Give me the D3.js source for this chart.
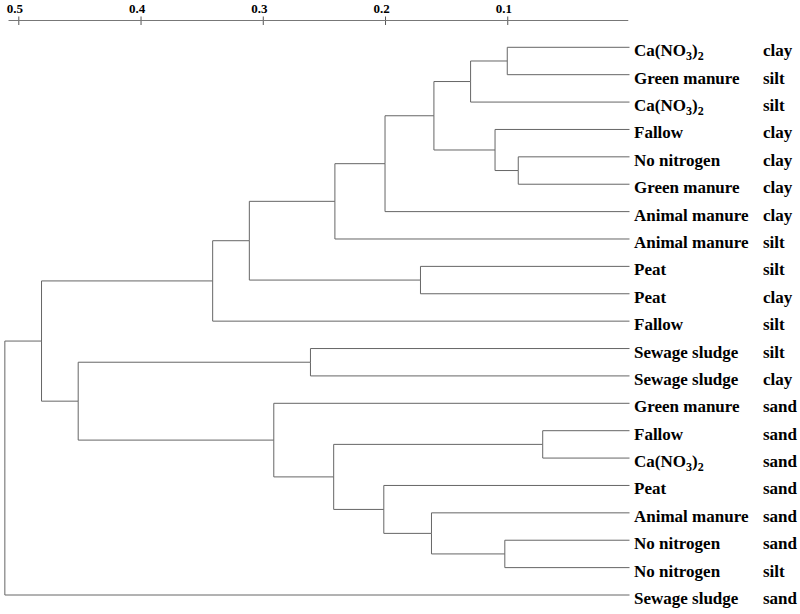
<!DOCTYPE html>
<html><head><meta charset="utf-8">
<script src="https://cdn.jsdelivr.net/npm/d3@7"></script>
<style>body{margin:0;background:#fff} svg{display:block}</style>
</head><body>
<svg id="chart" width="800" height="614"></svg>
<script>
// Leaves (top to bottom)
const treatments = ["Ca(NO3)2","Green manure","Ca(NO3)2","Fallow","No nitrogen","Green manure",
  "Animal manure","Animal manure","Peat","Peat","Fallow","Sewage sludge","Sewage sludge",
  "Green manure","Fallow","Ca(NO3)2","Peat","Animal manure","No nitrogen","No nitrogen","Sewage sludge"];
const soils = ["clay","silt","silt","clay","clay","clay","clay","silt","silt","clay","silt",
  "silt","clay","sand","sand","sand","sand","sand","sand","silt","sand"];
// Merge steps: node 21+k joins mergeA[k] and mergeB[k] at distance mergeDist[k]
const mergeA =    [0,    21,   4,    3,    22,   25,   26,   8,    27,   29,   11,   14,   18,   17,   16,   32,   13,   31,   30,   39];
const mergeB =    [1,    2,    5,    23,   24,   6,    7,    9,    28,   10,   12,   15,   19,   33,   34,   35,   36,   37,   38,   20];
const mergeDist = [0.100,0.130,0.091,0.110,0.160,0.200,0.241,0.171,0.311,0.341,0.261,0.071,0.102,0.162,0.201,0.242,0.291,0.451,0.481,0.511];
const tickValues = [0.5,0.4,0.3,0.2,0.1];
const tickLabels = ["0.5","0.4","0.3","0.2","0.1"];

const svg = d3.select("#chart");
const font = "'Liberation Serif','Times New Roman',serif";

const x = d3.scaleLinear().domain([0.5, 0]).range([18.3, 629.5]);
const y = d3.scalePoint().domain(d3.range(treatments.length)).range([47.3, 595]);

// build tree
const nodes = treatments.map((t, i) => ({id: i, name: t, soil: soils[i], dist: 0}));
mergeA.forEach((a, k) => {
  nodes.push({id: nodes.length, dist: mergeDist[k], children: [nodes[a], nodes[mergeB[k]]]});
});
const root = d3.hierarchy(nodes[nodes.length - 1]);
root.eachAfter(d => {
  d.py = d.children ? d3.mean(d.children, c => c.py) : y(d.data.id);
});

// links
svg.append("g")
  .attr("fill", "none")
  .attr("stroke", "#666")
  .attr("stroke-width", 1)
  .selectAll("path")
  .data(root.links())
  .join("path")
  .attr("d", l => `M${x(l.source.data.dist)},${l.source.py}V${l.target.py}H${x(l.target.data.dist)}`);

// axis
const axisG = svg.append("g").attr("transform", "translate(0,20.5)");
axisG.call(d3.axisTop(x).tickValues(tickValues)
  .tickFormat((d, i) => tickLabels[i]).tickSize(4).tickPadding(4));
axisG.attr("font-family", font).attr("font-size", 13);
axisG.select(".domain").remove();
axisG.append("line")
  .attr("x1", x(0.508)).attr("x2", x(0.001))
  .attr("stroke", "#777");
axisG.selectAll(".tick line").attr("y1", -4).attr("y2", 4.5).attr("stroke", "#555");
axisG.selectAll(".tick text")
  .attr("dx", -4)
  .attr("fill", "#000")
  .style("font-family", font)
  .style("font-weight", "bold")
  .style("font-size", "13px");

// leaf labels
const leaves = root.leaves();
const lab = svg.append("g")
  .style("font-family", font)
  .style("font-weight", "bold")
  .style("font-size", "17px")
  .attr("fill", "#000");

function addChem(sel, str) {
  let shift = 0;
  str.split(/(\d)/).filter(s => s.length).forEach(part => {
    const isSub = /^\d$/.test(part);
    const target = isSub ? 4 : 0;
    const ts = sel.append("tspan").text(part);
    if (target !== shift) { ts.attr("dy", target - shift); shift = target; }
    if (isSub) ts.style("font-size", "12px");
  });
}

leaves.forEach(d => {
  const t = lab.append("text").attr("x", 634).attr("y", d.py + 9);
  addChem(t, d.data.name);
  lab.append("text").attr("x", 763).attr("y", d.py + 9).text(d.data.soil);
});
</script>
</body></html>
